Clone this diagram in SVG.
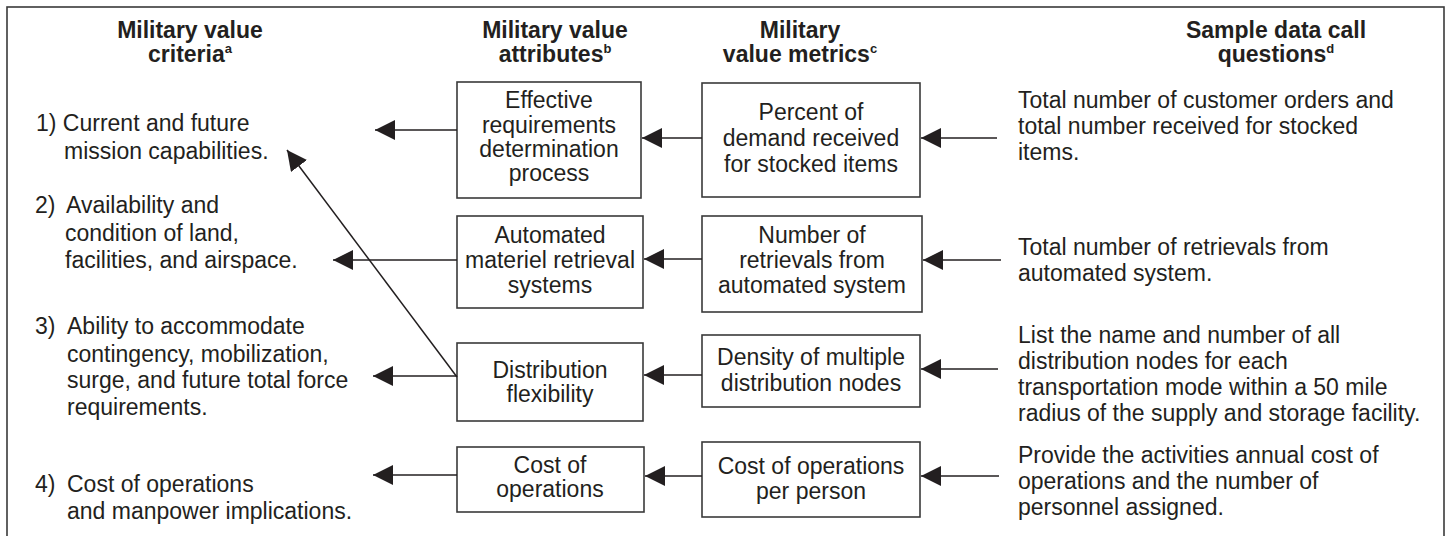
<svg xmlns="http://www.w3.org/2000/svg" width="1450" height="536" viewBox="0 0 1450 536">
<style>
text{font-family:"Liberation Sans",Arial,sans-serif;font-size:23px;fill:#231f20}
.h{font-weight:bold;text-anchor:middle}
.sup{font-size:13px}
.c{text-anchor:middle}
.box{fill:#fff;stroke:#3a3a3a;stroke-width:1.6}
.ln{stroke:#231f20;stroke-width:1.5;fill:none}
</style>
<defs>
<marker id="ah" markerUnits="userSpaceOnUse" markerWidth="20" markerHeight="20" refX="20" refY="10" orient="auto">
<path d="M0,0 L20,10 L0,20 z" fill="#231f20"/>
</marker>
</defs>
<rect x="7" y="7" width="1437" height="540" fill="#fff" stroke="#3a3a3a" stroke-width="1.6"/>

<g id="headers">
<text class="h" x="190" y="38">Military value</text>
<text class="h" x="190" y="62">criteria<tspan class="sup" dy="-9">a</tspan></text>
<text class="h" x="555" y="38">Military value</text>
<text class="h" x="555" y="62">attributes<tspan class="sup" dy="-9">b</tspan></text>
<text class="h" x="800" y="38">Military</text>
<text class="h" x="800" y="62">value metrics<tspan class="sup" dy="-9">c</tspan></text>
<text class="h" x="1276" y="38">Sample data call</text>
<text class="h" x="1276" y="62">questions<tspan class="sup" dy="-9">d</tspan></text>
</g>

<g id="criterion1">
<text x="36" y="131">1) Current and future</text>
<text x="64" y="159">mission capabilities.</text>
</g>
<g id="criterion2">
<text y="213"><tspan x="35">2)</tspan><tspan x="66">Availability and</tspan></text>
<text x="65" y="241">condition of land,</text>
<text x="65" y="268">facilities, and airspace.</text>
</g>
<g id="criterion3">
<text y="334"><tspan x="35">3)</tspan><tspan x="67">Ability to accommodate</tspan></text>
<text x="67" y="362">contingency, mobilization,</text>
<text x="67" y="388">surge, and future total force</text>
<text x="67" y="415">requirements.</text>
</g>
<g id="criterion4">
<text y="492"><tspan x="35">4)</tspan><tspan x="67">Cost of operations</tspan></text>
<text x="67" y="519">and manpower implications.</text>
</g>

<g id="attr1">
<rect class="box" x="457" y="82" width="184" height="116"/>
<text class="c" x="549" y="108">Effective</text>
<text class="c" x="549" y="133">requirements</text>
<text class="c" x="549" y="157">determination</text>
<text class="c" x="549" y="181">process</text>
</g>
<g id="attr2">
<rect class="box" x="457" y="216" width="186" height="92"/>
<text class="c" x="550" y="243">Automated</text>
<text class="c" x="550" y="268">materiel retrieval</text>
<text class="c" x="550" y="293">systems</text>
</g>
<g id="attr3">
<rect class="box" x="457" y="343" width="186" height="78"/>
<text class="c" x="550" y="378">Distribution</text>
<text class="c" x="550" y="402">flexibility</text>
</g>
<g id="attr4">
<rect class="box" x="457" y="447" width="187" height="65"/>
<text class="c" x="550" y="473">Cost of</text>
<text class="c" x="550" y="497">operations</text>
</g>

<g id="metric1">
<rect class="box" x="702" y="83" width="218" height="114"/>
<text class="c" x="811" y="120">Percent of</text>
<text class="c" x="811" y="146">demand received</text>
<text class="c" x="811" y="172">for stocked items</text>
</g>
<g id="metric2">
<rect class="box" x="702" y="216" width="220" height="96"/>
<text class="c" x="812" y="243">Number of</text>
<text class="c" x="812" y="268">retrievals from</text>
<text class="c" x="812" y="293">automated system</text>
</g>
<g id="metric3">
<rect class="box" x="702" y="335" width="218" height="72"/>
<text class="c" x="811" y="365">Density of multiple</text>
<text class="c" x="811" y="391">distribution nodes</text>
</g>
<g id="metric4">
<rect class="box" x="702" y="442" width="218" height="75"/>
<text class="c" x="811" y="474">Cost of operations</text>
<text class="c" x="811" y="499">per person</text>
</g>

<g id="question1">
<text x="1018" y="108">Total number of customer orders and</text>
<text x="1018" y="134">total number received for stocked</text>
<text x="1018" y="160">items.</text>
</g>
<g id="question2">
<text x="1018" y="255">Total number of retrievals from</text>
<text x="1018" y="281">automated system.</text>
</g>
<g id="question3">
<text x="1018" y="343">List the name and number of all</text>
<text x="1018" y="369">distribution nodes for each</text>
<text x="1018" y="395">transportation mode within a 50 mile</text>
<text x="1018" y="421">radius of the supply and storage facility.</text>
</g>
<g id="question4">
<text x="1018" y="463">Provide the activities annual cost of</text>
<text x="1018" y="489">operations and the number of</text>
<text x="1018" y="515">personnel assigned.</text>
</g>

<g id="connectors">
<line class="ln" x1="457" y1="130" x2="375" y2="130" marker-end="url(#ah)"/>
<line class="ln" x1="457" y1="260" x2="333" y2="260" marker-end="url(#ah)"/>
<line class="ln" x1="457" y1="376" x2="373" y2="376" marker-end="url(#ah)"/>
<line class="ln" x1="457" y1="475" x2="373" y2="475" marker-end="url(#ah)"/>
<line class="ln" x1="457" y1="377" x2="287" y2="150" marker-end="url(#ah)"/>
<line class="ln" x1="702" y1="138" x2="642" y2="138" marker-end="url(#ah)"/>
<line class="ln" x1="702" y1="259" x2="644" y2="259" marker-end="url(#ah)"/>
<line class="ln" x1="702" y1="375" x2="644" y2="375" marker-end="url(#ah)"/>
<line class="ln" x1="702" y1="476" x2="645" y2="476" marker-end="url(#ah)"/>
<line class="ln" x1="997" y1="138" x2="921" y2="138" marker-end="url(#ah)"/>
<line class="ln" x1="1001" y1="260" x2="923" y2="260" marker-end="url(#ah)"/>
<line class="ln" x1="998" y1="369" x2="921" y2="369" marker-end="url(#ah)"/>
<line class="ln" x1="999" y1="476" x2="921" y2="476" marker-end="url(#ah)"/>
</g>
</svg>
